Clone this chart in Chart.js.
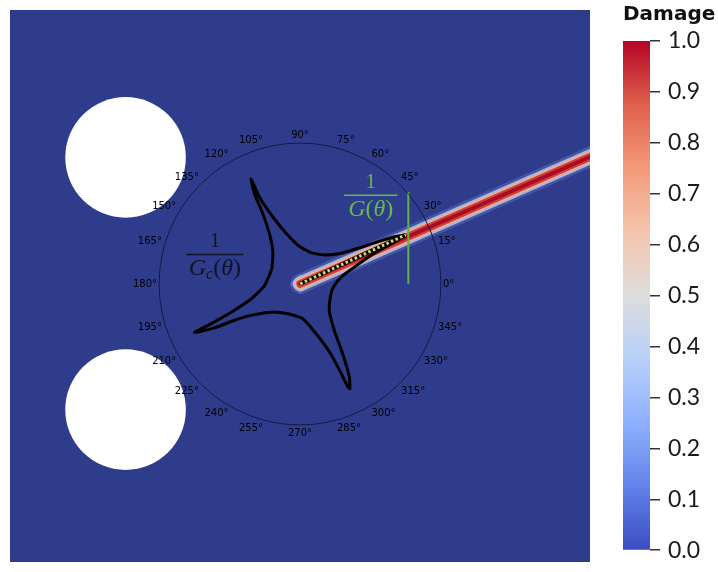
<!DOCTYPE html>
<html>
<head>
<meta charset="utf-8">
<script src="https://cdn.jsdelivr.net/npm/chart.js@4.4.1/dist/chart.umd.min.js"></script>
<style>
  html, body { margin: 0; padding: 0; background: #fff; }
  #wrap { position: relative; width: 718px; height: 572px; overflow: hidden; }
  canvas { position: absolute; }
</style>
</head>
<body>
<div id="wrap">
  <canvas id="plate" width="600" height="572" style="left:0;top:0"></canvas>
  <canvas id="polar" width="330" height="330" style="left:136px;top:118px"></canvas>
  <canvas id="bar" width="118" height="572" style="left:600px;top:0"></canvas>
</div>
<script>
// plate in units of its height (y up); polar overlay in units of its circle radius
const plateW = 1.039, plateH = 1;
const holeX = [0.207, 0.207];
const holeY = [0.733, 0.276];
const holeR = 0.108;
const polarCenter = [0.520, 0.504];
const polarRadius = 0.252;

const angleLabels = ['90°', '75°', '60°', '45°', '30°', '15°', '0°', '345°', '330°', '315°', '300°', '285°',
                     '270°', '255°', '240°', '225°', '210°', '195°', '180°', '165°', '150°', '135°', '120°', '105°'];

// 1/Gc(theta) curve
const starU = [0.750, 0.679, 0.560, 0.418, 0.300, 0.182, 0.087, -0.007, -0.101, -0.196, -0.291, -0.350,
               -0.326, -0.267, -0.220, -0.196, -0.196, -0.204, -0.255, -0.350, -0.491, -0.633, -0.752,
               -0.610, -0.468, -0.350, -0.208, -0.090, 0.016, 0.111, 0.206, 0.277, 0.335, 0.352,
               0.348, 0.300, 0.241, 0.206, 0.218, 0.241, 0.300, 0.395, 0.513, 0.655];
const starV = [0.352, 0.340, 0.305, 0.257, 0.222, 0.207, 0.220, 0.270, 0.364, 0.482, 0.624, 0.754,
               0.648, 0.506, 0.364, 0.246, 0.177, 0.104, -0.014, -0.109, -0.204, -0.286, -0.350,
               -0.317, -0.262, -0.227, -0.204, -0.215, -0.250, -0.357, -0.487, -0.617, -0.735, -0.754,
               -0.665, -0.499, -0.333, -0.191, -0.073, -0.014, 0.057, 0.128, 0.211, 0.293];

const crackU = [0, 0.750];
const crackV = [0, 0.352];
const bandU = [0, 2.2];
const bandV = [0, 0.975];
const gLineU = [0.768, 0.768];
const gLineV = [0, 0.660];

const damageRange = [0, 1];
const cmapStops = [0, 0.125, 0.25, 0.375, 0.5, 0.625, 0.75, 0.875, 1];
const cmapColors = ['#3b4cc0', '#6282ea', '#8db0fe', '#b8d0f9', '#dddddd', '#f5c4ad', '#f49a7b', '#de604d', '#b40426'];

// polar units -> plate units
const toPlate = (u, v) => ({ x: polarCenter[0] + polarRadius * u, y: polarCenter[1] + polarRadius * v });
const path = (us, vs) => us.map((u, i) => toPlate(u, vs[i]));

const starPts = path(starU, starV);
starPts.push(starPts[0]);

const bandLayers = [
  { w: 20, c: 'rgba(120,150,225,0.3)' },
  { w: 15, c: 'rgba(205,214,236,0.75)' },
  { w: 11, c: '#f0b093' },
  { w: 8, c: '#d0403a' },
  { w: 4, c: '#a80d26' }
];

const line = (data, color, width, order, extra) => Object.assign({
  data, showLine: true, borderColor: color, borderWidth: width, pointRadius: 0,
  tension: 0, fill: false, order, clip: 0
}, extra || {});

const datasets = [
  {
    data: holeX.map((x, i) => ({ x, y: holeY[i] })),
    backgroundColor: '#ffffff', borderWidth: 0, order: 20,
    pointRadius: c => c.chart.scales.x.getPixelForValue(holeR) - c.chart.scales.x.getPixelForValue(0)
  },
  {
    data: [toPlate(0, 0)], backgroundColor: 'rgba(205,218,245,0.22)', borderWidth: 0,
    pointRadius: 10, pointStyle: 'rectRot', order: 16
  }
];
bandLayers.forEach((l, i) => datasets.push(line(path(bandU, bandV), l.c, l.w, 15 - i, { borderCapStyle: 'round' })));
datasets.push(line(starPts, '#000', 3, 4, { tension: 0.18, borderJoinStyle: 'round' }));
datasets.push(line(path(crackU, crackV), '#000', 4, 3));
datasets.push(line(path(crackU, crackV), '#cbe36c', 3, 2, { borderDash: [2.5, 2.5] }));
datasets.push(line(path(gLineU, gLineV), '#5fb247', 2, 1));

const fractions = [
  { u: -0.607, v: 0.211, w: 0.406, color: '#101226', sub: 'c' },
  { u: 0.501, v: 0.636, w: 0.378, color: '#66b84a', sub: '' }
];

const plateBg = {
  id: 'plateBg',
  beforeDatasetsDraw(chart) {
    const { ctx, chartArea: a } = chart;
    ctx.save();
    ctx.fillStyle = '#2f3c8c';
    ctx.fillRect(a.left, a.top, a.width, a.height);
    ctx.restore();
  }
};

const fractionText = {
  id: 'fractionText',
  afterDatasetsDraw(chart) {
    const { ctx, scales: { x, y } } = chart;
    fractions.forEach(f => {
      const p = toPlate(f.u, f.v);
      const cx = x.getPixelForValue(p.x), cy = y.getPixelForValue(p.y);
      const half = (x.getPixelForValue(polarRadius * f.w) - x.getPixelForValue(0)) / 2;
      ctx.save();
      ctx.strokeStyle = f.color;
      ctx.fillStyle = f.color;
      ctx.lineWidth = 1.6;
      ctx.beginPath();
      ctx.moveTo(cx - half, cy);
      ctx.lineTo(cx + half, cy);
      ctx.stroke();
      ctx.textBaseline = 'alphabetic';
      ctx.textAlign = 'center';
      ctx.font = '21px "Liberation Serif"';
      ctx.fillText('1', cx, cy - 7);
      const parts = [['G', 'italic 24px "Liberation Serif"', 0]];
      if (f.sub) parts.push([f.sub, 'italic 16px "Liberation Serif"', 4]);
      parts.push(['(', '24px "Liberation Serif"', 0], ['θ', 'italic 24px "Liberation Serif"', 0], [')', '24px "Liberation Serif"', 0]);
      let total = 0;
      parts.forEach(pt => { ctx.font = pt[1]; pt.push(ctx.measureText(pt[0]).width); total += pt[3]; });
      let px = cx - total / 2;
      ctx.textAlign = 'left';
      parts.forEach(pt => { ctx.font = pt[1]; ctx.fillText(pt[0], px, cy + 21 + pt[2]); px += pt[3]; });
      ctx.restore();
    });
  }
};

const plate = new Chart(document.getElementById('plate'), {
  type: 'scatter',
  data: { datasets },
  options: {
    responsive: false, animation: false, events: [],
    layout: { padding: { left: 10, top: 5, right: 8, bottom: 7 } },
    plugins: { legend: { display: false }, tooltip: { enabled: false } },
    scales: {
      x: { type: 'linear', min: 0, max: plateW, display: false },
      y: { type: 'linear', min: 0, max: plateH, display: false }
    }
  },
  plugins: [plateBg, fractionText]
});

const polarCanvas = document.getElementById('polar');
const polar = new Chart(polarCanvas, {
  type: 'radar',
  data: { labels: angleLabels, datasets: [{ data: angleLabels.map(() => null), pointRadius: 0, borderWidth: 0 }] },
  options: {
    responsive: false, maintainAspectRatio: false, animation: false, events: [],
    plugins: { legend: { display: false }, tooltip: { enabled: false } },
    scales: {
      r: {
        min: 0, max: 1, startAngle: 0,
        ticks: { display: false, stepSize: 1 },
        grid: { circular: true, color: '#151a45', lineWidth: 1 },
        angleLines: { display: false },
        pointLabels: { color: '#000', padding: 2, font: { family: 'DejaVu Sans', size: 10 } }
      }
    }
  }
});

// line the polar axis up with the plate coordinates
(function fitPolar() {
  const xs = plate.scales.x, ys = plate.scales.y;
  const cx = xs.getPixelForValue(polarCenter[0]);
  const cy = ys.getPixelForValue(polarCenter[1]);
  const want = xs.getPixelForValue(polarCenter[0] + polarRadius) - cx;
  let size = 330;
  for (let k = 0; k < 3; k++) {
    size = Math.round(size + 2 * (want - polar.scales.r.drawingArea));
    polar.resize(size, size);
  }
  polarCanvas.style.left = (cx - polar.scales.r.xCenter) + 'px';
  polarCanvas.style.top = (cy - polar.scales.r.yCenter) + 'px';
})();

new Chart(document.getElementById('bar'), {
  type: 'bar',
  data: {
    labels: ['Damage'],
    datasets: [{
      data: [damageRange],
      barPercentage: 1, categoryPercentage: 1, borderWidth: 0,
      backgroundColor: c => {
        const ch = c.chart, ys = ch.scales.y;
        if (!ch.chartArea || !ys) return cmapColors[0];
        const g = ch.ctx.createLinearGradient(0, ys.getPixelForValue(0), 0, ys.getPixelForValue(1));
        cmapStops.forEach((s, i) => g.addColorStop(s, cmapColors[i]));
        return g;
      }
    }]
  },
  options: {
    responsive: false, animation: false, events: [],
    layout: { padding: { left: 23, right: 0, top: 0, bottom: 15 } },
    plugins: {
      legend: { display: false },
      tooltip: { enabled: false },
      title: {
        display: true, text: 'Damage', align: 'start', color: '#111',
        font: { family: 'DejaVu Sans', weight: 'bold', size: 20 },
        padding: { top: 3, bottom: 14 }
      }
    },
    scales: {
      x: { display: false },
      y: {
        position: 'right', min: 0, max: 1,
        afterFit: s => { s.width = 68; },
        ticks: { stepSize: 0.1, callback: v => v.toFixed(1), color: '#1a1a1a', padding: 8, font: { family: 'Lato', size: 23 } },
        grid: { drawOnChartArea: false, tickLength: 10, color: '#333', lineWidth: 1.5 },
        border: { display: false }
      }
    }
  }
});
</script>
</body>
</html>
